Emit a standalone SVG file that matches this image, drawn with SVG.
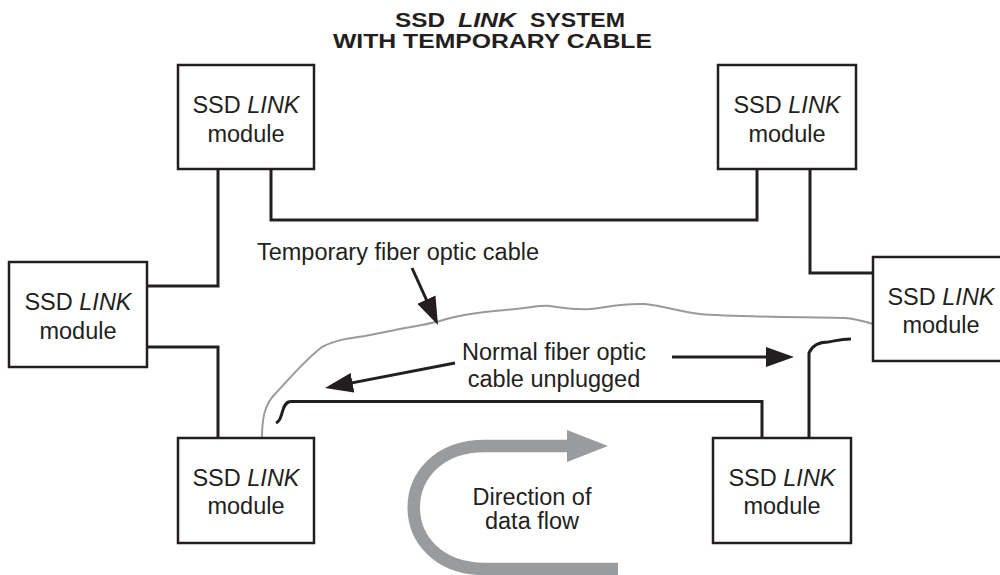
<svg xmlns="http://www.w3.org/2000/svg" width="1000" height="575" viewBox="0 0 1000 575">
<style>
.box{fill:#fff;stroke:#231f20;stroke-width:2.5}
.t{font-family:"Liberation Sans",Arial,sans-serif;font-size:23.5px;fill:#231f20;text-anchor:middle}
.i{font-style:italic}
.title{font-family:"Liberation Sans",Arial,sans-serif;font-size:20.5px;font-weight:bold;fill:#231f20}
.ln{fill:none;stroke:#231f20;stroke-width:3}
.arr{fill:none;stroke:#231f20;stroke-width:3}
.cable{fill:none;stroke:#999a9c;stroke-width:2}
</style>
<defs>
<marker id="ah" markerUnits="userSpaceOnUse" markerWidth="30" markerHeight="22" refX="23" refY="10" orient="auto" viewBox="0 0 30 22">
<path d="M0,0 L28,10 L0,20 z" fill="#231f20"/>
</marker>
</defs>
<g id="title">
<text class="title" y="27"><tspan x="395" textLength="50" lengthAdjust="spacingAndGlyphs">SSD</tspan><tspan x="458" textLength="58" lengthAdjust="spacingAndGlyphs" font-style="italic">LINK</tspan><tspan x="530" textLength="95" lengthAdjust="spacingAndGlyphs">SYSTEM</tspan></text>
<text class="title" x="333" y="48" textLength="319" lengthAdjust="spacingAndGlyphs">WITH TEMPORARY CABLE</text>
</g>
<g id="connectors">
<path class="ln" d="M218,169 V286 H147"/>
<path class="ln" d="M147,347 H218 V438"/>
<path class="ln" d="M271,169 V220 H757 V169"/>
<path class="ln" d="M810,169 V273 H873"/>
<path class="ln" d="M290,401.5 H762 V438"/>
<path class="ln" d="M290,401.5 C283,403 283,412 281,416 C280,420 278,422 276,423"/>
<path class="ln" d="M809,438 V353 C812,346 818,342 828,342 C835,341 840,339 851,339"/>
<path class="cable" d="M262,438 C262,420 264,405 275,394 C290,378 305,360 322,347 C335,340 350,338 365,336 L390,331 C410,327 425,325 440,321 C455,316 470,313 505,310 C530,308 540,305 550,306 C565,308 575,310 590,309 C610,307 620,303 645,304 C665,306 680,312 700,314 C730,317 800,317 845,318 C858,319 865,322 873,324"/>
<line class="arr" x1="412" y1="268" x2="435.9" y2="320.5" marker-end="url(#ah)"/>
<line class="arr" x1="455" y1="363" x2="329.9" y2="387.1" marker-end="url(#ah)"/>
<line class="arr" x1="672" y1="357" x2="789" y2="357" marker-end="url(#ah)"/>
</g>
<g id="flow">
<path d="M567,446 H485 C390,446 390,569 485,569 H618" fill="none" stroke="#9a9b9d" stroke-width="12.5"/>
<polygon points="567,430 608,446 567,462" fill="#9a9b9d"/>
<text class="t" x="532" y="505">Direction of</text>
<text class="t" x="532" y="529">data flow</text>
</g>
<g id="labels">
<text class="t" x="398" y="260">Temporary fiber optic cable</text>
<text class="t" x="554" y="360">Normal fiber optic</text>
<text class="t" x="554" y="387">cable unplugged</text>
</g>
<g id="node-tl"><rect class="box" x="178" y="65" width="136" height="104"/><text class="t" x="246" y="113">SSD <tspan class="i">LINK</tspan></text><text class="t" x="246" y="142">module</text></g>
<g id="node-tr"><rect class="box" x="718" y="65" width="138" height="104"/><text class="t" x="787" y="113">SSD <tspan class="i">LINK</tspan></text><text class="t" x="787" y="142">module</text></g>
<g id="node-l"><rect class="box" x="9" y="262" width="138" height="105"/><text class="t" x="78" y="310">SSD <tspan class="i">LINK</tspan></text><text class="t" x="78" y="339">module</text></g>
<g id="node-r"><rect class="box" x="873" y="257" width="137" height="104"/><text class="t" x="941" y="305">SSD <tspan class="i">LINK</tspan></text><text class="t" x="941" y="333">module</text></g>
<g id="node-bl"><rect class="box" x="178" y="438" width="136" height="105"/><text class="t" x="246" y="486">SSD <tspan class="i">LINK</tspan></text><text class="t" x="246" y="514">module</text></g>
<g id="node-br"><rect class="box" x="713" y="438" width="138" height="105"/><text class="t" x="782" y="486">SSD <tspan class="i">LINK</tspan></text><text class="t" x="782" y="514">module</text></g>
</svg>
